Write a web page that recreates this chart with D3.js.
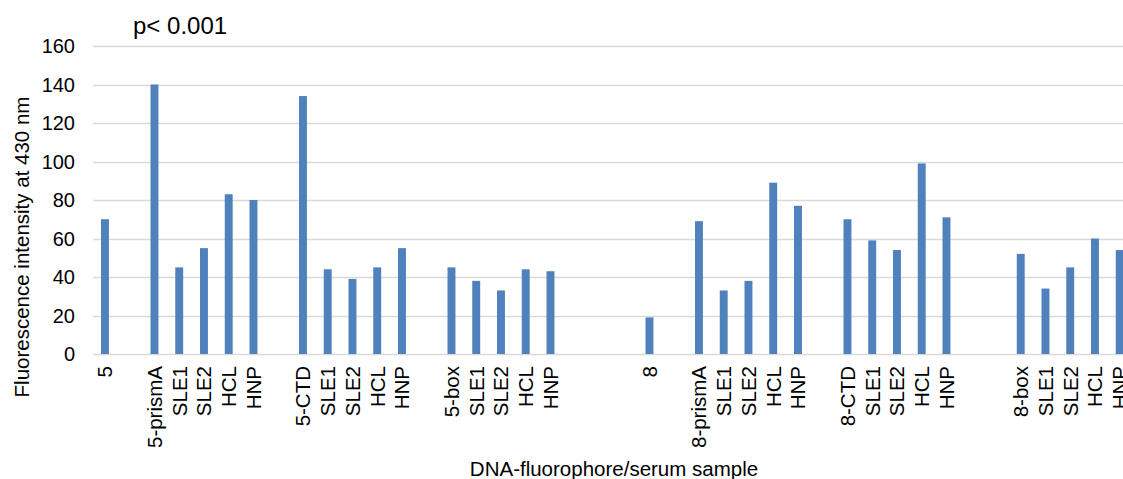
<!DOCTYPE html>
<html>
<head>
<meta charset="utf-8">
<script src="https://cdn.jsdelivr.net/npm/d3@7"></script>
<style>
  body { margin: 0; background: #fff; }
  text { font-family: "Liberation Sans", Arial, sans-serif; fill: #000; }
</style>
</head>
<body>
<svg id="chart" width="1123" height="479"></svg>
<script>
// category labels, "" = empty slot between groups
var labels = ["5", "", "5-prismA", "SLE1", "SLE2", "HCL", "HNP", "",
  "5-CTD", "SLE1", "SLE2", "HCL", "HNP", "",
  "5-box", "SLE1", "SLE2", "HCL", "HNP", "", "", "",
  "8", "", "8-prismA", "SLE1", "SLE2", "HCL", "HNP", "",
  "8-CTD", "SLE1", "SLE2", "HCL", "HNP", "", "",
  "8-box", "SLE1", "SLE2", "HCL", "HNP"];
var values = [70, null, 140, 45, 55, 83, 80, null,
  134, 44, 39, 45, 55, null,
  45, 38, 33, 44, 43, null, null, null,
  19, null, 69, 33, 38, 89, 77, null,
  70, 59, 54, 99, 71, null, null,
  52, 34, 45, 60, 54];
var yTicks = [0, 20, 40, 60, 80, 100, 120, 140, 160];

var svg = d3.select("#chart");

var x = d3.scaleBand()
    .domain(d3.range(labels.length))
    .range([92.6, 92.6 + 24.75 * labels.length])
    .paddingInner(0.68)
    .paddingOuter(0.34);

var y = d3.scaleLinear()
    .domain([0, 160])
    .range([354, 46]);

// gridlines
svg.append("g").selectAll("line")
    .data(yTicks)
    .enter().append("line")
    .attr("x1", 93).attr("x2", 1123)
    .attr("y1", function(d){ return Math.round(y(d)) + 0.5; })
    .attr("y2", function(d){ return Math.round(y(d)) + 0.5; })
    .style("stroke", "#d9d9d9")
    .style("stroke-width", 1.3);

// y tick labels
svg.append("g").selectAll("text")
    .data(yTicks)
    .enter().append("text")
    .attr("x", 75)
    .attr("y", function(d){ return y(d); })
    .attr("dy", "0.36em")
    .attr("text-anchor", "end")
    .style("font-size", "20px")
    .text(function(d){ return d; });

// bars
var idx = d3.range(labels.length).filter(function(i){ return values[i] != null; });
svg.append("g").selectAll("rect")
    .data(idx)
    .enter().append("rect")
    .attr("x", function(i){ return x(i); })
    .attr("width", x.bandwidth())
    .attr("y", function(i){ return y(values[i]); })
    .attr("height", function(i){ return y(0) - y(values[i]); })
    .attr("fill", "#4f81bd");

// x category labels (last HNP runs off the right edge, as in the original)
svg.append("g").selectAll("text")
    .data(d3.range(labels.length).filter(function(i){ return labels[i] !== ""; }))
    .enter().append("text")
    .attr("transform", function(i){
        return "translate(" + (x(i) + x.bandwidth() / 2) + ",366) rotate(-90)";
    })
    .attr("dy", "0.36em")
    .attr("text-anchor", "end")
    .style("font-size", "20.5px")
    .text(function(i){ return labels[i]; });

// axis titles
svg.append("text")
    .attr("transform", "translate(29,247) rotate(-90)")
    .attr("text-anchor", "middle")
    .style("font-size", "20.5px")
    .text("Fluorescence intensity at 430 nm");

svg.append("text")
    .attr("x", 614)
    .attr("y", 476)
    .attr("text-anchor", "middle")
    .style("font-size", "20.5px")
    .text("DNA-fluorophore/serum sample");

svg.append("text")
    .attr("x", 133)
    .attr("y", 34)
    .style("font-size", "24px")
    .text("p< 0.001");
</script>
</body>
</html>
